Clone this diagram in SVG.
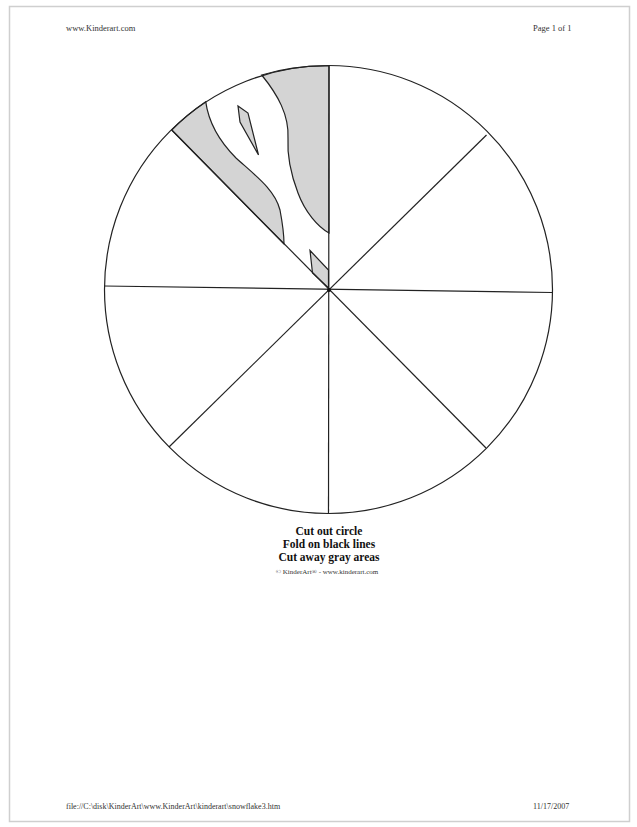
<svg xmlns="http://www.w3.org/2000/svg" width="637" height="827" viewBox="0 0 637 827">
<style>
.ln{stroke:#222;stroke-width:1.2;fill:none}
.gr{fill:#d4d4d4;stroke:#222;stroke-width:1.2}
.t{font-family:"Liberation Serif",serif;fill:#333}
.c{font-family:"Liberation Serif",serif;fill:#111;text-anchor:middle;font-size:11.5px;font-weight:bold}
</style>
<rect x="0" y="0" width="637" height="827" fill="#fff"/>
<rect id="page" x="9.5" y="6.5" width="620" height="815" fill="none" stroke="#cfcfcf" stroke-width="1.5"/>
<g id="header">
<text class="t" x="66" y="31" font-size="8.5">www.Kinderart.com</text>
<text class="t" x="533" y="31" font-size="8.5">Page 1 of 1</text>
</g>
<g id="gray-areas">
<path class="gr" d="M171.7,130 A224,224 0 0 1 205.7,101.7 C208,118 216,138 236,158 C256,176 275,190 280,210 C283,226 284,236 284,244 Z"/>
<path class="gr" d="M261.7,75 A224,224 0 0 1 329,66 L329,233 C318,227 305,212 298,193 C290,172 287,156 288,138 C289,115 278,95 261.7,75 Z"/>
<path class="gr" d="M238,106 L248,113 L258.5,155 L240,122 Z"/>
<path class="gr" d="M310,250.5 L328.5,270 L328.5,288 L312.5,273 Z"/>
</g>
<g id="circle">
<circle class="ln" cx="328.5" cy="289.5" r="224"/>
</g>
<g id="fold-lines">
<line class="ln" x1="329" y1="66" x2="328.5" y2="513"/>
<line class="ln" x1="104" y1="286" x2="552" y2="292.5"/>
<line class="ln" x1="171.7" y1="130" x2="486" y2="448"/>
<line class="ln" x1="486.5" y1="135" x2="169" y2="447"/>
<circle cx="329" cy="290" r="2" fill="#111"/>
</g>
<g id="instructions">
<text class="c" x="329" y="535">Cut out circle</text>
<text class="c" x="329" y="548">Fold on black lines</text>
<text class="c" x="329" y="561">Cut away gray areas</text>
<text class="t" x="327" y="574" font-size="7" text-anchor="middle">© KinderArt® - www.kinderart.com</text>
</g>
<g id="footer">
<text class="t" x="66" y="809" font-size="8">file://C:\disk\KinderArt\www.KinderArt\kinderart\snowflake3.htm</text>
<text class="t" x="533" y="809" font-size="8">11/17/2007</text>
</g>
</svg>
